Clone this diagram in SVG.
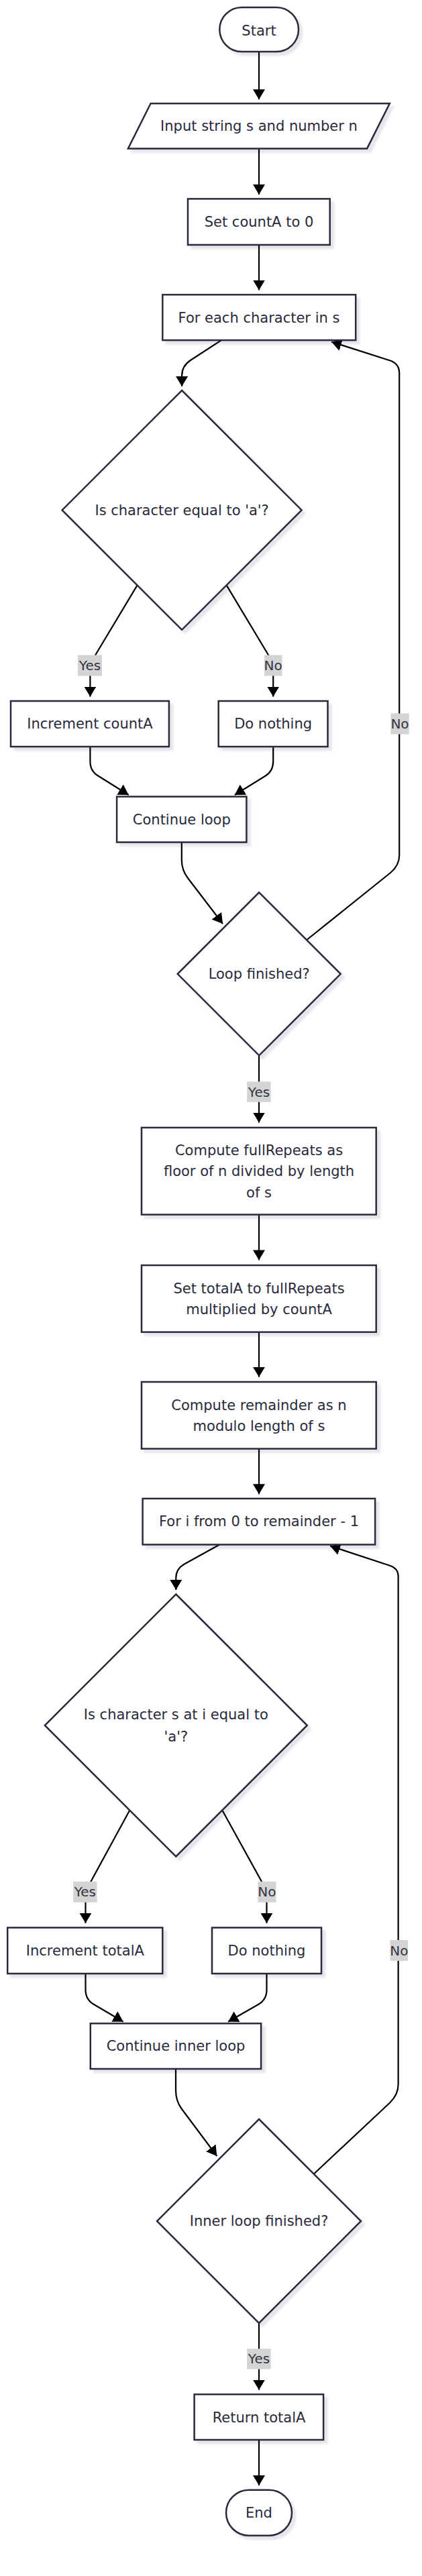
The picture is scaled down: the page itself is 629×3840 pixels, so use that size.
<svg xmlns="http://www.w3.org/2000/svg" width="629" height="3840" viewBox="0 0 629 3840">
<defs>
<marker id="arr" markerUnits="userSpaceOnUse" viewBox="0 0 15 18" refX="15" refY="9" markerWidth="15" markerHeight="18" orient="auto">
<path d="M0,0 L15,9 L0,18 z" fill="#000"/>
</marker>
<filter id="sh" x="-10%" y="-10%" width="130%" height="130%">
<feDropShadow dx="5" dy="5" stdDeviation="1.5" flood-color="#1a1a40" flood-opacity="0.1"/>
</filter>
</defs>
<style>
.n{fill:#fff;stroke:#2a2a3c;stroke-width:2.5;filter:url(#sh)}
.t{font-family:"DejaVu Sans",Verdana,sans-serif;font-size:21px;fill:#2a2a3c;text-anchor:middle}
.e{fill:none;stroke:#000;stroke-width:2.2;marker-end:url(#arr)}
.lb{fill:#d4d4d4}
.lt{font-family:"DejaVu Sans",Verdana,sans-serif;font-size:20px;fill:#333344;text-anchor:middle}
</style>
<rect width="629" height="3840" fill="#fff"/>
<g id="connectors">
<path class="e" d="M386,77 L386,148.3"/>
<path class="e" d="M386,221.4 L386,290"/>
<path class="e" d="M386,365 L386,432.5"/>
<path class="e" d="M330,507.1 L284,537 Q271.1,545.5 271.1,560 L271.1,576"/>
<path class="e" d="M204.6,872.4 L143.6,974 Q134.4,989 134.4,1002 L134.4,1038.6"/>
<path class="e" d="M337.6,872.4 L398.6,974 Q407.2,989 407.2,1002 L407.2,1038.6"/>
<path class="e" d="M134.4,1113 L134.4,1135 Q134.4,1150 147,1157 L191.7,1185"/>
<path class="e" d="M407.2,1113 L407.2,1135 Q407.2,1150 395,1157 L349.8,1185"/>
<path class="e" d="M270.8,1255.5 L270.8,1282 Q270.8,1297 280,1309 L332,1377"/>
<path class="e" d="M457.3,1401 L582,1301 Q595.2,1290 595.2,1275 L595.2,556 Q595.2,543 583,538 L494,509.5"/>
<path class="e" d="M386,1573.3 L386,1673.5"/>
<path class="e" d="M386,1810.6 L386,1878.4"/>
<path class="e" d="M386,1985.7 L386,2052.7"/>
<path class="e" d="M386,2159.6 L386,2227.3"/>
<path class="e" d="M327.3,2302.5 L274,2332 Q262.3,2339 262.3,2352 L262.3,2370"/>
<path class="e" d="M193.3,2698.5 L136.4,2803 Q127.5,2818 127.5,2830 L127.5,2866.8"/>
<path class="e" d="M331.3,2698.5 L389,2803 Q397.5,2818 397.5,2830 L397.5,2866.8"/>
<path class="e" d="M127.5,2942 L127.5,2966 Q127.5,2981 140,2988 L183.7,3013.7"/>
<path class="e" d="M397.5,2942 L397.5,2966 Q397.5,2981 385,2988 L340.1,3013.7"/>
<path class="e" d="M262,3084 L262,3116 Q262,3132 271,3144 L323.3,3214"/>
<path class="e" d="M467.7,3240.7 L581.6,3134 Q593.6,3122 593.6,3107 L593.6,2350 Q593.6,2338 581.6,2334 L492,2304.5"/>
<path class="e" d="M386,3463 L386,3562.6"/>
<path class="e" d="M386,3637 L386,3705"/>
</g>
<g id="edge-labels">
<rect class="lb" x="116" y="976.5" width="36" height="31"/><text class="lt" x="134" y="999">Yes</text>
<rect class="lb" x="394" y="976.5" width="26.5" height="31"/><text class="lt" x="407.2" y="999">No</text>
<rect class="lb" x="582.4" y="1063.5" width="27.3" height="31"/><text class="lt" x="596" y="1086">No</text>
<rect class="lb" x="368.2" y="1612.3" width="35.5" height="30.5"/><text class="lt" x="386" y="1634.5">Yes</text>
<rect class="lb" x="109.1" y="2804.8" width="35.5" height="31"/><text class="lt" x="126.8" y="2827.3">Yes</text>
<rect class="lb" x="384.3" y="2804.8" width="27.2" height="31"/><text class="lt" x="397.9" y="2827.3">No</text>
<rect class="lb" x="581.6" y="2892" width="26.5" height="31"/><text class="lt" x="594.8" y="2914.6">No</text>
<rect class="lb" x="368.2" y="3501.2" width="35.5" height="30.5"/><text class="lt" x="386" y="3523.3">Yes</text>
</g>
<g id="start"><rect class="n" x="327.3" y="11" width="117.7" height="66" rx="33"/><text class="t" x="386" y="53.3">Start</text></g>
<g id="input"><polygon class="n" points="224.6,154.3 580.8,154.3 547.1,221.4 190.9,221.4"/><text class="t" x="386" y="195">Input string s and number n</text></g>
<g id="setCountA"><rect class="n" x="280" y="296.4" width="211.7" height="68.6"/><text class="t" x="386" y="338">Set countA to 0</text></g>
<g id="forEach"><rect class="n" x="242.3" y="439.3" width="287.9" height="67.8"/><text class="t" x="386" y="480.5">For each character in s</text></g>
<g id="isA"><polygon class="n" points="271.1,582 449.6,760.4 271.1,938.8 92.6,760.4"/><text class="t" x="271.1" y="767.5">Is character equal to 'a'?</text></g>
<g id="incCountA"><rect class="n" x="16" y="1045" width="235.9" height="68"/><text class="t" x="134" y="1085.5">Increment countA</text></g>
<g id="doNothing1"><rect class="n" x="325.7" y="1045" width="162.8" height="68"/><text class="t" x="407.1" y="1085.5">Do nothing</text></g>
<g id="continueLoop"><rect class="n" x="174.1" y="1187.5" width="193.3" height="68"/><text class="t" x="270.8" y="1229">Continue loop</text></g>
<g id="loopFinished"><polygon class="n" points="386.2,1330.3 507.7,1451.8 386.2,1573.3 264.7,1451.8"/><text class="t" x="386.2" y="1459">Loop finished?</text></g>
<g id="fullRepeats"><rect class="n" x="211" y="1680.9" width="349.7" height="129.7"/><text class="t" x="386" y="1721.8">Compute fullRepeats as</text><text class="t" x="386" y="1753.3">floor of n divided by length</text><text class="t" x="386" y="1784.8">of s</text></g>
<g id="setTotalA"><rect class="n" x="211" y="1886.1" width="349.7" height="99.6"/><text class="t" x="386" y="1928">Set totalA to fullRepeats</text><text class="t" x="386" y="1959">multiplied by countA</text></g>
<g id="remainder"><rect class="n" x="211" y="2060" width="349.7" height="99.6"/><text class="t" x="386" y="2101.5">Compute remainder as n</text><text class="t" x="386" y="2132.7">modulo length of s</text></g>
<g id="forI"><rect class="n" x="212.6" y="2233.9" width="346.5" height="68.6"/><text class="t" x="386" y="2275">For i from 0 to remainder - 1</text></g>
<g id="isAatI"><polygon class="n" points="262.3,2376.5 457.8,2572 262.3,2767.5 66.8,2572"/><text class="t" x="262.3" y="2563">Is character s at i equal to</text><text class="t" x="262.3" y="2595.6">'a'?</text></g>
<g id="incTotalA"><rect class="n" x="11.2" y="2873.5" width="231.1" height="68.5"/><text class="t" x="126.8" y="2915">Increment totalA</text></g>
<g id="doNothing2"><rect class="n" x="316" y="2873.5" width="163" height="68.5"/><text class="t" x="397.5" y="2915">Do nothing</text></g>
<g id="continueInner"><rect class="n" x="134.8" y="3016.3" width="254.3" height="67.7"/><text class="t" x="262" y="3056.8">Continue inner loop</text></g>
<g id="innerFinished"><polygon class="n" points="386,3159 538,3311 386,3463 234,3311"/><text class="t" x="386" y="3318">Inner loop finished?</text></g>
<g id="returnTotalA"><rect class="n" x="289.6" y="3569.2" width="192.5" height="67.8"/><text class="t" x="386" y="3610.5">Return totalA</text></g>
<g id="end"><rect class="n" x="337" y="3711.7" width="98" height="68" rx="34"/><text class="t" x="386" y="3752.5">End</text></g>
</svg>
